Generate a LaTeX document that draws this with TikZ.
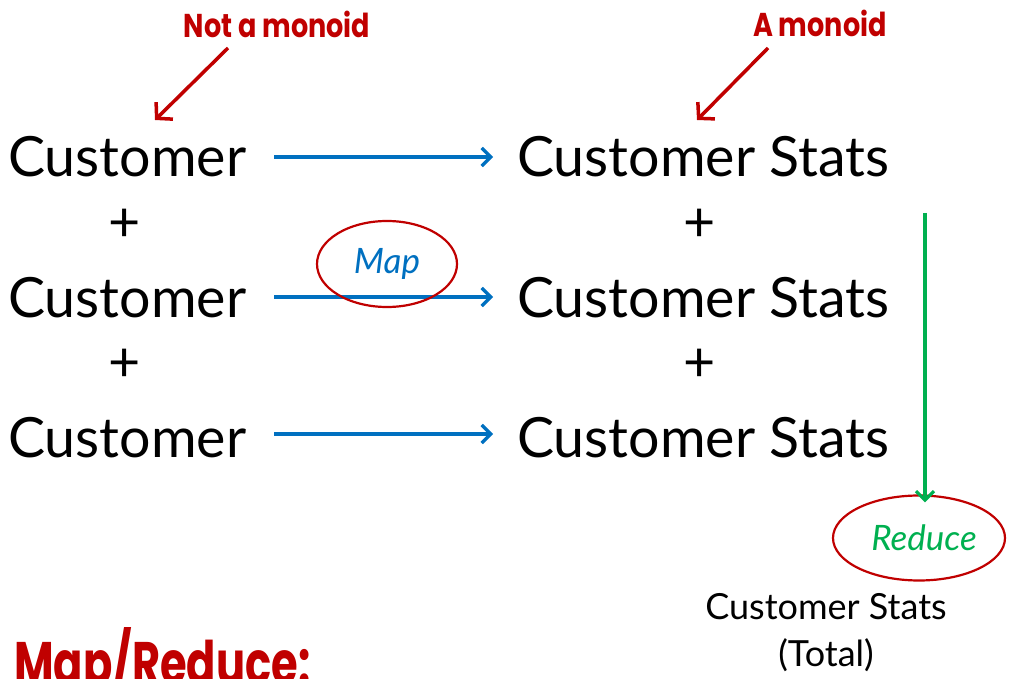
\documentclass[tikz,border=0pt]{standalone}
\usepackage{fontspec}
\setmainfont{Lato}
\newfontfamily\hand{Poppins}
\usetikzlibrary{arrows.meta,shapes.geometric}
\definecolor{mblue}{HTML}{0070C0}
\definecolor{mgreen}{HTML}{00B050}
\definecolor{mred}{HTML}{C00000}
\tikzset{
  big/.style={font=\fontsize{55.5}{60}\selectfont, inner sep=0pt, text depth=0pt, text height=40pt},
  plus/.style={font=\fontsize{55.5}{60}\selectfont, inner sep=0pt},
  maparrow/.style={draw=mblue, line width=3.2pt, -{Straight Barb[length=9pt,width=18pt,line width=3.2pt]}, shorten <=28pt, shorten >=24pt},
  redarrow/.style={draw=mred, line width=3.5pt, -{Straight Barb[length=11pt,width=24pt,line width=3.5pt]}},
  note/.style={text=mred, font=\hand\bfseries\fontsize{33}{36}\selectfont, inner sep=0pt, xscale=0.82},
  oval/.style={ellipse, draw=mred, line width=2.2pt, inner sep=0pt}
}
\begin{document}
\begin{tikzpicture}[x=1pt,y=-1pt]
\useasboundingbox (0,0) rectangle (1010,679);
\clip (0,0) rectangle (1010,679);
% left column
\node[big, anchor=west] (c1) at (8,157) {Customer};
\node[big, anchor=west] (c2) at (8,297) {Customer};
\node[big, anchor=west] (c3) at (8,437) {Customer};
\node[plus] (p1) at (125,225) {+};
\node[plus] (p2) at (125,365) {+};
% right column
\node[big, anchor=west] (s1) at (517,157) {Customer Stats};
\node[big, anchor=west] (s2) at (517,297) {Customer Stats};
\node[big, anchor=west] (s3) at (517,437) {Customer Stats};
\node[plus] (q1) at (700,225) {+};
\node[plus] (q2) at (700,365) {+};
% map arrows
\draw[maparrow] (c1) -- (s1);
\draw[maparrow] (c2) -- (s2);
\draw[maparrow] ([yshift=3pt]c3.east) -- ([yshift=3pt]s3.west);
% map ellipse
\node[oval, minimum width=140pt, minimum height=86pt, text=mblue, font=\itshape\fontsize{35}{40}\selectfont] (map) at (387,264) {Map};
% reduce
\node[oval, minimum width=172pt, minimum height=85pt, text=mgreen, font=\itshape\fontsize{35}{40}\selectfont] (reduce) at (919,538) {\hspace*{10pt}Reduce};
\coordinate (gs) at (925,213);
\draw[draw=mgreen, line width=3.2pt, -{Straight Barb[length=9pt,width=18pt,line width=3.2pt]}, shorten >=-8pt] (gs) -- (gs |- reduce.north);
\node[align=center, font=\fontsize{36}{47}\selectfont, inner sep=0pt] (total) at (826,633) {Customer Stats\\(Total)};
% notes
\node[note] (nm) at (277,24) {Not a monoid};
\node[note] (am) at (820,23) {A monoid};
\coordinate (nmtail) at (228,48);
\coordinate (amtail) at (768,48);
\coordinate (nmtip) at (155,120);
\coordinate (amtip) at (697,120);
\draw[redarrow] (nmtail) -- (nmtip);
\draw[redarrow] (amtail) -- (amtip);
\node[text=mred, font=\hand\bfseries\fontsize{60}{66}\selectfont, inner sep=0pt, anchor=base west, xscale=0.72] (mr) at (14,684) {Map/Reduce:};
\end{tikzpicture}
\end{document}
